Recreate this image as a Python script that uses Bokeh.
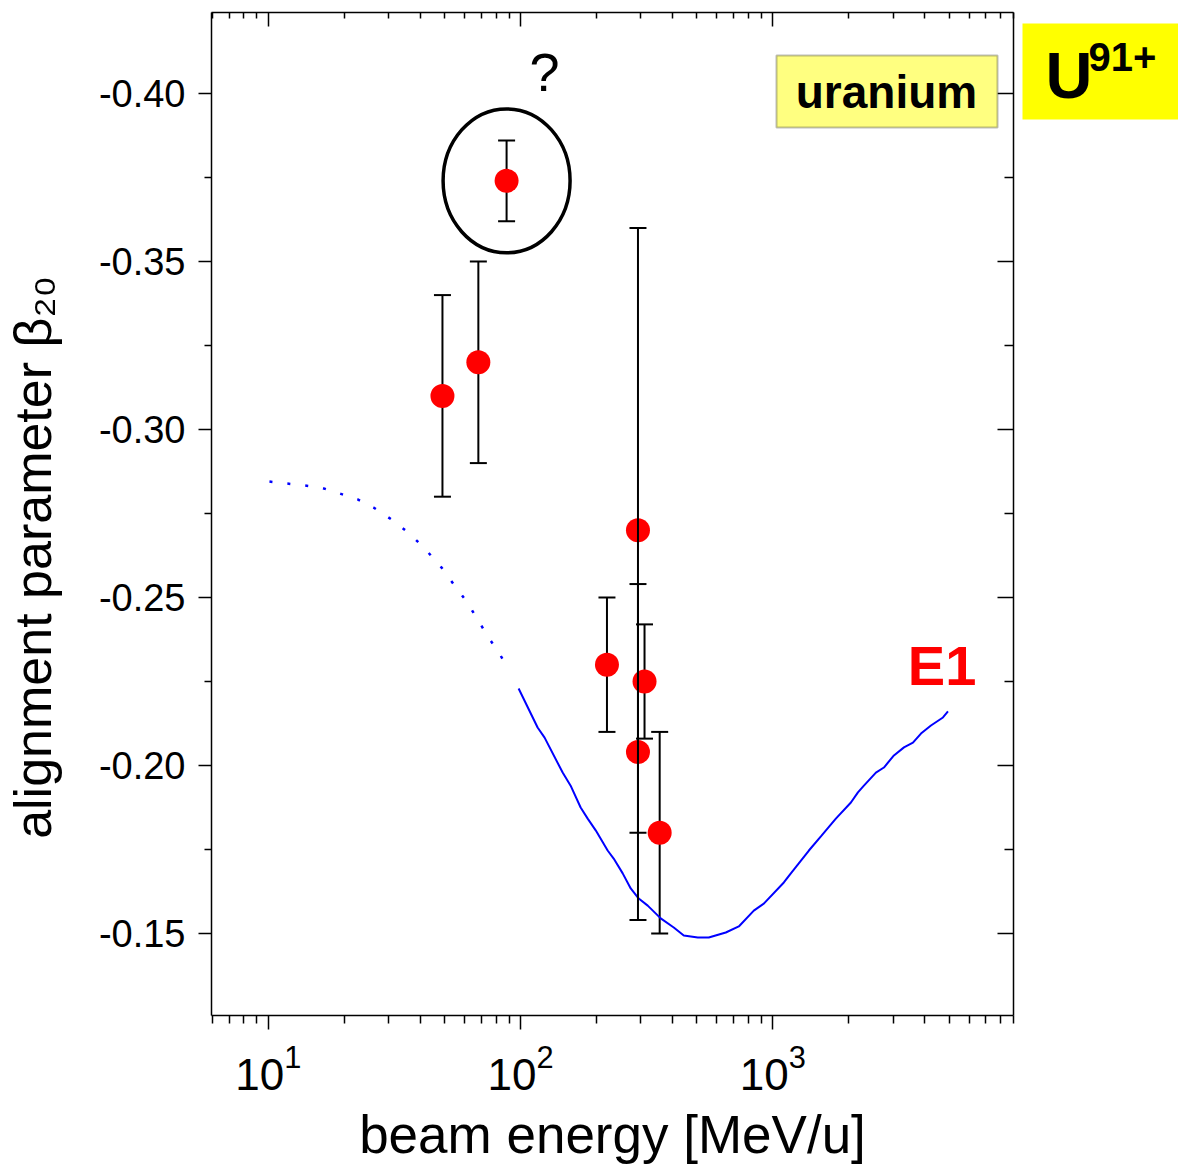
from bokeh.plotting import figure
from bokeh.layouts import row
from bokeh.models import (Range1d, FixedTicker, LogAxis, LinearAxis, Whisker, TeeHead,
                          ColumnDataSource, Label, BoxAnnotation, LogTickFormatter)
from bokeh.core.properties import value
from bokeh.embed import file_html
from bokeh.resources import INLINE

# ---------------- data ----------------
energy = [49, 68, 88, 220, 292, 292, 310, 356]
beta = [-0.310, -0.320, -0.374, -0.230, -0.270, -0.204, -0.225, -0.180]
beta_err = [0.030, 0.030, 0.012, 0.020, 0.090, 0.050, 0.017, 0.030]
bars_on_top = [4, 5]

theory_dot_energy = [10.1, 11.9, 14.0, 16.2, 19.1, 22.6, 26.1, 30.8, 36.3, 42.0,
                     48.6, 54.7, 61.1, 67.5, 74.6, 82.5, 90.4]
theory_dot_beta = [-0.2845, -0.2839, -0.2833, -0.2827, -0.2810, -0.2792, -0.2768,
                   -0.2732, -0.2690, -0.2643, -0.2589, -0.2536, -0.2488, -0.2435,
                   -0.2381, -0.2333, -0.2280]

theory_energy = [98.2, 116.8, 124.5, 146.8, 157.9, 173.0, 184.5, 198.5, 221.4, 233.9,
                 254.0, 273.3, 294.0, 319.2, 359.4, 404.8, 443.6, 504.1, 557.2, 651.0,
                 733.1, 840.7, 921.1, 1106, 1179, 1390, 1551, 1778, 2040, 2175,
                 2297, 2563, 2757, 3021, 3311, 3594, 3867, 4236, 4727, 4948]
theory_beta = [-0.2229, -0.2113, -0.2083, -0.1979, -0.1940, -0.1875, -0.1842, -0.1807,
               -0.1747, -0.1723, -0.1679, -0.1634, -0.1604, -0.1583, -0.1545, -0.1518,
               -0.1494, -0.1488, -0.1488, -0.1503, -0.1521, -0.1568, -0.1589, -0.1652,
               -0.1679, -0.1747, -0.1789, -0.1842, -0.1890, -0.1920, -0.1940, -0.1979,
               -0.1994, -0.2030, -0.2054, -0.2068, -0.2095, -0.2119, -0.2143, -0.2161]

x_ticks = [10, 100, 1000]
x_minor_ticks = [6, 7, 8, 9, 20, 30, 40, 50, 60, 70, 80, 90,
                 200, 300, 400, 500, 600, 700, 800, 900,
                 2000, 3000, 4000, 5000, 6000, 7000, 8000, 9000]
y_ticks = [-0.40, -0.35, -0.30, -0.25, -0.20, -0.15]
y_tick_labels = ["-0.40", "-0.35", "-0.30", "-0.25", "-0.20", "-0.15"]
y_minor_ticks = [-0.375, -0.325, -0.275, -0.225, -0.175, -0.125]

FONT = "Liberation Sans"
TOP, BOTTOM = 12, 156

# ---------------- main figure ----------------
p = figure(width=1016, height=1171, x_axis_type="log",
           x_range=Range1d(5.95, 9000), y_range=Range1d(-0.1256, -0.4241),
           output_backend="svg", toolbar_location=None,
           min_border_left=211, min_border_right=3,
           min_border_top=TOP, min_border_bottom=BOTTOM)
p.xgrid.visible = False
p.ygrid.visible = False
p.outline_line_color = None
p.background_fill_color = "white"
p.border_fill_color = "white"

xticker = FixedTicker(ticks=x_ticks, minor_ticks=x_minor_ticks)
yticker = FixedTicker(ticks=y_ticks, minor_ticks=y_minor_ticks)

def style(ax):
    ax.axis_line_color = "black"
    ax.axis_line_width = 1.5
    ax.major_tick_line_color = "black"
    ax.minor_tick_line_color = "black"
    ax.major_tick_line_width = 1.5
    ax.minor_tick_line_width = 1.5

# bottom
xb = p.xaxis[0]
xb.ticker = xticker
xb.formatter = LogTickFormatter()
style(xb)
xb.major_tick_out = 14
xb.major_tick_in = 0
xb.minor_tick_out = 8
xb.minor_tick_in = 0
xb.major_label_text_font = FONT
xb.major_label_text_font_size = "44px"
xb.major_label_text_color = "black"
xb.major_label_standoff = 14
xb.axis_label = "beam energy [MeV/u]"
xb.axis_label_text_font = FONT
xb.axis_label_text_font_size = "53px"
xb.axis_label_text_font_style = "normal"
xb.axis_label_text_color = "black"
xb.axis_label_standoff = 12

# left
yl = p.yaxis[0]
yl.ticker = yticker
yl.major_label_overrides = dict(zip(y_ticks, y_tick_labels))
style(yl)
yl.major_tick_out = 13
yl.major_tick_in = 0
yl.minor_tick_out = 7
yl.minor_tick_in = 0
yl.major_label_text_font = FONT
yl.major_label_text_font_size = "38px"
yl.major_label_text_color = "black"
yl.major_label_standoff = 13
yl.axis_label = "alignment parameter \u03b2\u2082\u2080" + "\u00a0" * 6
yl.axis_label_text_font = FONT
yl.axis_label_text_font_size = "52px"
yl.axis_label_text_font_style = "normal"
yl.axis_label_text_color = "black"
yl.axis_label_standoff = 34

# top
xt = LogAxis(ticker=xticker, major_label_overrides={t: "" for t in x_ticks})
style(xt)
xt.major_tick_in = 14
xt.major_tick_out = 0
xt.minor_tick_in = 6
xt.minor_tick_out = 0
xt.major_label_text_font_size = "1px"
xt.major_label_standoff = 0
p.add_layout(xt, "above")

# right
yr = LinearAxis(ticker=yticker, major_label_overrides={t: "" for t in y_ticks})
style(yr)
yr.major_tick_in = 16
yr.major_tick_out = 0
yr.minor_tick_in = 9
yr.minor_tick_out = 0
yr.major_label_text_font_size = "1px"
yr.major_label_standoff = 0
p.add_layout(yr, "right")

# ---------------- theory curve ----------------
p.line(theory_dot_energy, theory_dot_beta, line_color="#0000FF", line_width=2.5,
       line_dash="3 15")
p.line(theory_energy, theory_beta, line_color="#0000FF", line_width=2)

# ---------------- error bars + points ----------------
def whisker_source(idx):
    return ColumnDataSource(dict(
        x=[energy[i] for i in idx],
        lower=[beta[i] - beta_err[i] for i in idx],
        upper=[beta[i] + beta_err[i] for i in idx]))

under_idx = [i for i in range(len(energy)) if i not in bars_on_top]

for idx, level in ((under_idx, "underlay"), (bars_on_top, "annotation")):
    w = Whisker(source=whisker_source(idx), base="x", lower="lower", upper="upper",
                dimension="height", line_color="black", line_width=2, level=level,
                upper_head=TeeHead(size=17, line_width=2, line_color="black"),
                lower_head=TeeHead(size=17, line_width=2, line_color="black"))
    p.add_layout(w)

p.scatter(energy, beta, size=24, fill_color="#FF0000", line_color=None)

# circle around the questioned point
p.ellipse(x=[energy[2]], y=[beta[2]], width=127, height=144,
          width_units="screen", height_units="screen",
          fill_color=None, line_color="black", line_width=3.5)

# ---------------- annotations ----------------
p.add_layout(Label(x=124.5, y=-0.4065, text="?", text_font=FONT, text_font_size="54px",
                   text_align="center", text_baseline="middle", text_color="black"))

p.add_layout(Label(x=4690, y=-0.2298, text="E1", text_font=FONT, text_font_size="56px",
                   text_font_style="bold", text_color="#FF0000",
                   text_align="center", text_baseline="middle"))

p.add_layout(BoxAnnotation(left=565, right=786, bottom=888, top=960,
                           left_units="screen", right_units="screen",
                           bottom_units="screen", top_units="screen",
                           fill_color="#FFFF80", fill_alpha=1.0,
                           line_color="#222222", line_width=2, level="overlay"))
p.add_layout(Label(x=675, y=924, x_units="screen", y_units="screen", text="uranium",
                   text_font=FONT, text_font_size="46px", text_font_style="bold",
                   text_align="center", text_baseline="middle", text_color="black",
                   level="overlay"))

# ---------------- side panel with the ion label (pixel coordinates) ----------------
q = figure(width=162, height=1171, x_range=Range1d(0, 162),
           y_range=Range1d(1171 - BOTTOM, TOP),
           output_backend="svg", toolbar_location=None,
           min_border_left=0, min_border_right=0,
           min_border_top=TOP, min_border_bottom=BOTTOM)
q.axis.visible = False
q.xgrid.visible = False
q.ygrid.visible = False
q.outline_line_color = None
q.background_fill_color = "white"
q.border_fill_color = "white"
q.quad(left=[6], right=[162], top=[23], bottom=[119], fill_color="#FFFF00",
       line_color=None)
q.text(x=[29], y=[75], text=["U"], text_font=value(FONT), text_font_size="65px",
       text_font_style="bold", text_color="black", text_align="left",
       text_baseline="alphabetic")
q.text(x=[72], y=[56], text=["91+"], text_font=value(FONT), text_font_size="40px",
       text_font_style="bold", text_color="black", text_align="left",
       text_baseline="alphabetic")

layout = row(p, q, spacing=0)
open("out.html", "w").write(file_html(layout, INLINE))
